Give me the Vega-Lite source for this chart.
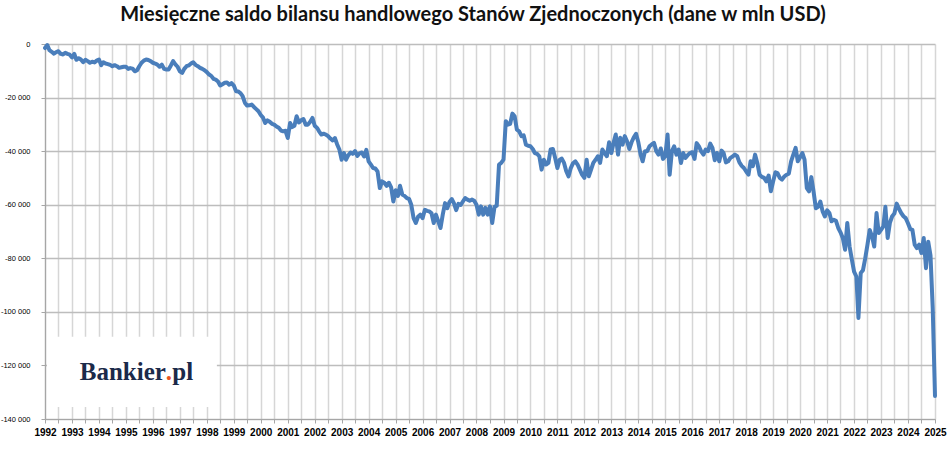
{
  "$schema": "https://vega.github.io/schema/vega-lite/v6.json",
  "width": 890,
  "height": 375,
  "autosize": {"type": "none"},
  "padding": {"left": 45, "top": 44, "right": 13, "bottom": 30},
  "background": "white",
  "title": {
    "text": "Miesięczne saldo bilansu handlowego Stanów Zjednoczonych (dane w mln USD)",
    "font": "Lato",
    "fontSize": 20,
    "fontWeight": "bold",
    "color": "#111111",
    "anchor": "middle",
    "dx": -17,
    "offset": 15
  },
  "config": {"view": {"stroke": null}},
  "layer": [
    {
      "data": {
        "values": [
          {"d": "1992-01-01", "v": -1500}, {"d": "1992-02-01", "v": -400}, {"d": "1992-03-01", "v": -2300}, {"d": "1992-04-01", "v": -2900}, {"d": "1992-05-01", "v": -3600}, {"d": "1992-06-01", "v": -3000}, {"d": "1992-07-01", "v": -2700}, {"d": "1992-08-01", "v": -3700}, {"d": "1992-09-01", "v": -3900}, {"d": "1992-10-01", "v": -3300}, {"d": "1992-11-01", "v": -3700}, {"d": "1992-12-01", "v": -4000},
          {"d": "1993-01-01", "v": -5000}, {"d": "1993-02-01", "v": -3700}, {"d": "1993-03-01", "v": -5900}, {"d": "1993-04-01", "v": -5300}, {"d": "1993-05-01", "v": -5800}, {"d": "1993-06-01", "v": -6800}, {"d": "1993-07-01", "v": -5900}, {"d": "1993-08-01", "v": -6400}, {"d": "1993-09-01", "v": -7000}, {"d": "1993-10-01", "v": -6600}, {"d": "1993-11-01", "v": -6900}, {"d": "1993-12-01", "v": -6200},
          {"d": "1994-01-01", "v": -5800}, {"d": "1994-02-01", "v": -7900}, {"d": "1994-03-01", "v": -6800}, {"d": "1994-04-01", "v": -7300}, {"d": "1994-05-01", "v": -7500}, {"d": "1994-06-01", "v": -7800}, {"d": "1994-07-01", "v": -8300}, {"d": "1994-08-01", "v": -7900}, {"d": "1994-09-01", "v": -8300}, {"d": "1994-10-01", "v": -8900}, {"d": "1994-11-01", "v": -8700}, {"d": "1994-12-01", "v": -8500},
          {"d": "1995-01-01", "v": -8500}, {"d": "1995-02-01", "v": -9300}, {"d": "1995-03-01", "v": -9000}, {"d": "1995-04-01", "v": -9200}, {"d": "1995-05-01", "v": -10200}, {"d": "1995-06-01", "v": -9800}, {"d": "1995-07-01", "v": -8300}, {"d": "1995-08-01", "v": -7000}, {"d": "1995-09-01", "v": -6200}, {"d": "1995-10-01", "v": -5800}, {"d": "1995-11-01", "v": -6000}, {"d": "1995-12-01", "v": -6400},
          {"d": "1996-01-01", "v": -7000}, {"d": "1996-02-01", "v": -7300}, {"d": "1996-03-01", "v": -7700}, {"d": "1996-04-01", "v": -8500}, {"d": "1996-05-01", "v": -7700}, {"d": "1996-06-01", "v": -9300}, {"d": "1996-07-01", "v": -9500}, {"d": "1996-08-01", "v": -9500}, {"d": "1996-09-01", "v": -8000}, {"d": "1996-10-01", "v": -6400}, {"d": "1996-11-01", "v": -7600}, {"d": "1996-12-01", "v": -8500},
          {"d": "1997-01-01", "v": -10200}, {"d": "1997-02-01", "v": -10800}, {"d": "1997-03-01", "v": -9300}, {"d": "1997-04-01", "v": -8300}, {"d": "1997-05-01", "v": -8000}, {"d": "1997-06-01", "v": -7300}, {"d": "1997-07-01", "v": -6800}, {"d": "1997-08-01", "v": -7800}, {"d": "1997-09-01", "v": -8300}, {"d": "1997-10-01", "v": -8900}, {"d": "1997-11-01", "v": -9300}, {"d": "1997-12-01", "v": -9800},
          {"d": "1998-01-01", "v": -10500}, {"d": "1998-02-01", "v": -11400}, {"d": "1998-03-01", "v": -11900}, {"d": "1998-04-01", "v": -13000}, {"d": "1998-05-01", "v": -13300}, {"d": "1998-06-01", "v": -14000}, {"d": "1998-07-01", "v": -15500}, {"d": "1998-08-01", "v": -15000}, {"d": "1998-09-01", "v": -14500}, {"d": "1998-10-01", "v": -14400}, {"d": "1998-11-01", "v": -15200}, {"d": "1998-12-01", "v": -14600},
          {"d": "1999-01-01", "v": -15500}, {"d": "1999-02-01", "v": -17600}, {"d": "1999-03-01", "v": -17700}, {"d": "1999-04-01", "v": -18300}, {"d": "1999-05-01", "v": -19500}, {"d": "1999-06-01", "v": -22000}, {"d": "1999-07-01", "v": -23000}, {"d": "1999-08-01", "v": -22900}, {"d": "1999-09-01", "v": -22600}, {"d": "1999-10-01", "v": -23500}, {"d": "1999-11-01", "v": -24300}, {"d": "1999-12-01", "v": -25100},
          {"d": "2000-01-01", "v": -26500}, {"d": "2000-02-01", "v": -27500}, {"d": "2000-03-01", "v": -29500}, {"d": "2000-04-01", "v": -28500}, {"d": "2000-05-01", "v": -29000}, {"d": "2000-06-01", "v": -29800}, {"d": "2000-07-01", "v": -30100}, {"d": "2000-08-01", "v": -30800}, {"d": "2000-09-01", "v": -31300}, {"d": "2000-10-01", "v": -32300}, {"d": "2000-11-01", "v": -32600}, {"d": "2000-12-01", "v": -32400},
          {"d": "2001-01-01", "v": -35100}, {"d": "2001-02-01", "v": -29500}, {"d": "2001-03-01", "v": -31000}, {"d": "2001-04-01", "v": -30500}, {"d": "2001-05-01", "v": -27000}, {"d": "2001-06-01", "v": -29300}, {"d": "2001-07-01", "v": -28500}, {"d": "2001-08-01", "v": -28000}, {"d": "2001-09-01", "v": -30100}, {"d": "2001-10-01", "v": -30100}, {"d": "2001-11-01", "v": -29000}, {"d": "2001-12-01", "v": -27600},
          {"d": "2002-01-01", "v": -30500}, {"d": "2002-02-01", "v": -31300}, {"d": "2002-03-01", "v": -32600}, {"d": "2002-04-01", "v": -33800}, {"d": "2002-05-01", "v": -33500}, {"d": "2002-06-01", "v": -33800}, {"d": "2002-07-01", "v": -34400}, {"d": "2002-08-01", "v": -35300}, {"d": "2002-09-01", "v": -36000}, {"d": "2002-10-01", "v": -35100}, {"d": "2002-11-01", "v": -37500}, {"d": "2002-12-01", "v": -39400},
          {"d": "2003-01-01", "v": -43200}, {"d": "2003-02-01", "v": -40700}, {"d": "2003-03-01", "v": -43200}, {"d": "2003-04-01", "v": -41500}, {"d": "2003-05-01", "v": -40500}, {"d": "2003-06-01", "v": -41000}, {"d": "2003-07-01", "v": -40000}, {"d": "2003-08-01", "v": -41800}, {"d": "2003-09-01", "v": -40800}, {"d": "2003-10-01", "v": -40500}, {"d": "2003-11-01", "v": -42000}, {"d": "2003-12-01", "v": -39500},
          {"d": "2004-01-01", "v": -43800}, {"d": "2004-02-01", "v": -45000}, {"d": "2004-03-01", "v": -46300}, {"d": "2004-04-01", "v": -46500}, {"d": "2004-05-01", "v": -47600}, {"d": "2004-06-01", "v": -53800}, {"d": "2004-07-01", "v": -51300}, {"d": "2004-08-01", "v": -51800}, {"d": "2004-09-01", "v": -53000}, {"d": "2004-10-01", "v": -51800}, {"d": "2004-11-01", "v": -53500}, {"d": "2004-12-01", "v": -58800},
          {"d": "2005-01-01", "v": -54600}, {"d": "2005-02-01", "v": -56700}, {"d": "2005-03-01", "v": -52900}, {"d": "2005-04-01", "v": -56200}, {"d": "2005-05-01", "v": -56700}, {"d": "2005-06-01", "v": -57500}, {"d": "2005-07-01", "v": -57800}, {"d": "2005-08-01", "v": -60000}, {"d": "2005-09-01", "v": -65000}, {"d": "2005-10-01", "v": -66800}, {"d": "2005-11-01", "v": -64500}, {"d": "2005-12-01", "v": -63700},
          {"d": "2006-01-01", "v": -65000}, {"d": "2006-02-01", "v": -61900}, {"d": "2006-03-01", "v": -62300}, {"d": "2006-04-01", "v": -62500}, {"d": "2006-05-01", "v": -63100}, {"d": "2006-06-01", "v": -66800}, {"d": "2006-07-01", "v": -63700}, {"d": "2006-08-01", "v": -66200}, {"d": "2006-09-01", "v": -68700}, {"d": "2006-10-01", "v": -63700}, {"d": "2006-11-01", "v": -59400}, {"d": "2006-12-01", "v": -61300},
          {"d": "2007-01-01", "v": -59000}, {"d": "2007-02-01", "v": -57900}, {"d": "2007-03-01", "v": -59400}, {"d": "2007-04-01", "v": -62000}, {"d": "2007-05-01", "v": -59700}, {"d": "2007-06-01", "v": -60100}, {"d": "2007-07-01", "v": -58800}, {"d": "2007-08-01", "v": -57500}, {"d": "2007-09-01", "v": -58100}, {"d": "2007-10-01", "v": -58500}, {"d": "2007-11-01", "v": -58100}, {"d": "2007-12-01", "v": -58500},
          {"d": "2008-01-01", "v": -60000}, {"d": "2008-02-01", "v": -63700}, {"d": "2008-03-01", "v": -60600}, {"d": "2008-04-01", "v": -63700}, {"d": "2008-05-01", "v": -61200}, {"d": "2008-06-01", "v": -63700}, {"d": "2008-07-01", "v": -60600}, {"d": "2008-08-01", "v": -66800}, {"d": "2008-09-01", "v": -60800}, {"d": "2008-10-01", "v": -60400}, {"d": "2008-11-01", "v": -45000}, {"d": "2008-12-01", "v": -44400},
          {"d": "2009-01-01", "v": -43200}, {"d": "2009-02-01", "v": -28800}, {"d": "2009-03-01", "v": -30100}, {"d": "2009-04-01", "v": -29800}, {"d": "2009-05-01", "v": -26000}, {"d": "2009-06-01", "v": -27000}, {"d": "2009-07-01", "v": -32000}, {"d": "2009-08-01", "v": -32600}, {"d": "2009-09-01", "v": -34400}, {"d": "2009-10-01", "v": -34100}, {"d": "2009-11-01", "v": -37600}, {"d": "2009-12-01", "v": -38000},
          {"d": "2010-01-01", "v": -38200}, {"d": "2010-02-01", "v": -39200}, {"d": "2010-03-01", "v": -40700}, {"d": "2010-04-01", "v": -41000}, {"d": "2010-05-01", "v": -41900}, {"d": "2010-06-01", "v": -46900}, {"d": "2010-07-01", "v": -43200}, {"d": "2010-08-01", "v": -45000}, {"d": "2010-09-01", "v": -44400}, {"d": "2010-10-01", "v": -39400}, {"d": "2010-11-01", "v": -39200}, {"d": "2010-12-01", "v": -42500},
          {"d": "2011-01-01", "v": -46300}, {"d": "2011-02-01", "v": -43200}, {"d": "2011-03-01", "v": -42800}, {"d": "2011-04-01", "v": -44400}, {"d": "2011-05-01", "v": -47500}, {"d": "2011-06-01", "v": -49400}, {"d": "2011-07-01", "v": -46300}, {"d": "2011-08-01", "v": -44500}, {"d": "2011-09-01", "v": -43800}, {"d": "2011-10-01", "v": -45000}, {"d": "2011-11-01", "v": -46900}, {"d": "2011-12-01", "v": -48800},
          {"d": "2012-01-01", "v": -50000}, {"d": "2012-02-01", "v": -43200}, {"d": "2012-03-01", "v": -49400}, {"d": "2012-04-01", "v": -46900}, {"d": "2012-05-01", "v": -44400}, {"d": "2012-06-01", "v": -43200}, {"d": "2012-07-01", "v": -41900}, {"d": "2012-08-01", "v": -44400}, {"d": "2012-09-01", "v": -39400}, {"d": "2012-10-01", "v": -40700}, {"d": "2012-11-01", "v": -41900}, {"d": "2012-12-01", "v": -36700},
          {"d": "2013-01-01", "v": -40700}, {"d": "2013-02-01", "v": -36700}, {"d": "2013-03-01", "v": -33800}, {"d": "2013-04-01", "v": -41300}, {"d": "2013-05-01", "v": -35000}, {"d": "2013-06-01", "v": -37600}, {"d": "2013-07-01", "v": -34400}, {"d": "2013-08-01", "v": -36300}, {"d": "2013-09-01", "v": -39200}, {"d": "2013-10-01", "v": -36700}, {"d": "2013-11-01", "v": -34800}, {"d": "2013-12-01", "v": -33500},
          {"d": "2014-01-01", "v": -36700}, {"d": "2014-02-01", "v": -41300}, {"d": "2014-03-01", "v": -43800}, {"d": "2014-04-01", "v": -40000}, {"d": "2014-05-01", "v": -40000}, {"d": "2014-06-01", "v": -38200}, {"d": "2014-07-01", "v": -37500}, {"d": "2014-08-01", "v": -36900}, {"d": "2014-09-01", "v": -40000}, {"d": "2014-10-01", "v": -41300}, {"d": "2014-11-01", "v": -39000}, {"d": "2014-12-01", "v": -42900},
          {"d": "2015-01-01", "v": -41900}, {"d": "2015-02-01", "v": -33800}, {"d": "2015-03-01", "v": -48800}, {"d": "2015-04-01", "v": -40000}, {"d": "2015-05-01", "v": -38200}, {"d": "2015-06-01", "v": -41300}, {"d": "2015-07-01", "v": -39400}, {"d": "2015-08-01", "v": -44400}, {"d": "2015-09-01", "v": -40700}, {"d": "2015-10-01", "v": -42500}, {"d": "2015-11-01", "v": -41500}, {"d": "2015-12-01", "v": -40700},
          {"d": "2016-01-01", "v": -40400}, {"d": "2016-02-01", "v": -42900}, {"d": "2016-03-01", "v": -37000}, {"d": "2016-04-01", "v": -38200}, {"d": "2016-05-01", "v": -40100}, {"d": "2016-06-01", "v": -41300}, {"d": "2016-07-01", "v": -39400}, {"d": "2016-08-01", "v": -40000}, {"d": "2016-09-01", "v": -37200}, {"d": "2016-10-01", "v": -38800}, {"d": "2016-11-01", "v": -43400}, {"d": "2016-12-01", "v": -40700},
          {"d": "2017-01-01", "v": -43800}, {"d": "2017-02-01", "v": -39800}, {"d": "2017-03-01", "v": -40700}, {"d": "2017-04-01", "v": -44200}, {"d": "2017-05-01", "v": -43800}, {"d": "2017-06-01", "v": -42500}, {"d": "2017-07-01", "v": -42000}, {"d": "2017-08-01", "v": -41300}, {"d": "2017-09-01", "v": -41900}, {"d": "2017-10-01", "v": -44200}, {"d": "2017-11-01", "v": -45500}, {"d": "2017-12-01", "v": -46300},
          {"d": "2018-01-01", "v": -47600}, {"d": "2018-02-01", "v": -48800}, {"d": "2018-03-01", "v": -43800}, {"d": "2018-04-01", "v": -45600}, {"d": "2018-05-01", "v": -41300}, {"d": "2018-06-01", "v": -44500}, {"d": "2018-07-01", "v": -48800}, {"d": "2018-08-01", "v": -49600}, {"d": "2018-09-01", "v": -50000}, {"d": "2018-10-01", "v": -51300}, {"d": "2018-11-01", "v": -49100}, {"d": "2018-12-01", "v": -55000},
          {"d": "2019-01-01", "v": -51300}, {"d": "2019-02-01", "v": -47900}, {"d": "2019-03-01", "v": -48200}, {"d": "2019-04-01", "v": -50000}, {"d": "2019-05-01", "v": -50600}, {"d": "2019-06-01", "v": -49500}, {"d": "2019-07-01", "v": -48800}, {"d": "2019-08-01", "v": -48400}, {"d": "2019-09-01", "v": -43800}, {"d": "2019-10-01", "v": -41300}, {"d": "2019-11-01", "v": -38800}, {"d": "2019-12-01", "v": -43800},
          {"d": "2020-01-01", "v": -42300}, {"d": "2020-02-01", "v": -40700}, {"d": "2020-03-01", "v": -43200}, {"d": "2020-04-01", "v": -53800}, {"d": "2020-05-01", "v": -55000}, {"d": "2020-06-01", "v": -49700}, {"d": "2020-07-01", "v": -55000}, {"d": "2020-08-01", "v": -61300}, {"d": "2020-09-01", "v": -60800}, {"d": "2020-10-01", "v": -58800}, {"d": "2020-11-01", "v": -62500}, {"d": "2020-12-01", "v": -64400},
          {"d": "2021-01-01", "v": -62100}, {"d": "2021-02-01", "v": -63100}, {"d": "2021-03-01", "v": -66200}, {"d": "2021-04-01", "v": -65600}, {"d": "2021-05-01", "v": -66000}, {"d": "2021-06-01", "v": -68700}, {"d": "2021-07-01", "v": -70300}, {"d": "2021-08-01", "v": -72400}, {"d": "2021-09-01", "v": -76800}, {"d": "2021-10-01", "v": -66800}, {"d": "2021-11-01", "v": -75600}, {"d": "2021-12-01", "v": -80300},
          {"d": "2022-01-01", "v": -85000}, {"d": "2022-02-01", "v": -86800}, {"d": "2022-03-01", "v": -102300}, {"d": "2022-04-01", "v": -85500}, {"d": "2022-05-01", "v": -84500}, {"d": "2022-06-01", "v": -80000}, {"d": "2022-07-01", "v": -75000}, {"d": "2022-08-01", "v": -69400}, {"d": "2022-09-01", "v": -71800}, {"d": "2022-10-01", "v": -75600}, {"d": "2022-11-01", "v": -63100}, {"d": "2022-12-01", "v": -70600},
          {"d": "2023-01-01", "v": -69400}, {"d": "2023-02-01", "v": -68100}, {"d": "2023-03-01", "v": -60800}, {"d": "2023-04-01", "v": -72400}, {"d": "2023-05-01", "v": -66800}, {"d": "2023-06-01", "v": -64300}, {"d": "2023-07-01", "v": -63300}, {"d": "2023-08-01", "v": -59600}, {"d": "2023-09-01", "v": -61500}, {"d": "2023-10-01", "v": -63100}, {"d": "2023-11-01", "v": -64300}, {"d": "2023-12-01", "v": -65000},
          {"d": "2024-01-01", "v": -66900}, {"d": "2024-02-01", "v": -69100}, {"d": "2024-03-01", "v": -69400}, {"d": "2024-04-01", "v": -74900}, {"d": "2024-05-01", "v": -76200}, {"d": "2024-06-01", "v": -74900}, {"d": "2024-07-01", "v": -78000}, {"d": "2024-08-01", "v": -72400}, {"d": "2024-09-01", "v": -83700}, {"d": "2024-10-01", "v": -73800}, {"d": "2024-11-01", "v": -78900}, {"d": "2024-12-01", "v": -98400},
          {"d": "2025-01-01", "v": -131400}
        ]
      },
      "mark": {"type": "line", "color": "#4a7ebb", "strokeWidth": 4, "strokeJoin": "round", "strokeCap": "round"},
      "encoding": {
        "x": {
          "field": "d",
          "type": "temporal",
          "scale": {
            "type": "utc",
            "domain": [
              {"year": 1992, "month": 1, "date": 1, "utc": true},
              {"year": 2025, "month": 1, "date": 1, "utc": true}
            ]
          },
          "axis": {
            "title": null,
            "tickCount": {"interval": "month", "step": 6},
            "labelExpr": "utcFormat(datum.value, '%m') == '01' ? utcFormat(datum.value, '%Y') : ''",
            "labelOverlap": false,
            "labelFlush": false,
            "labelFont": "Liberation Sans",
            "labelFontWeight": "bold",
            "labelFontSize": 10,
            "labelColor": "#000000",
            "labelPadding": 4,
            "grid": true,
            "gridColor": "#d6d6d6",
            "gridWidth": 1.5,
            "domainColor": "#a6a6a6",
            "domainWidth": 1.2,
            "tickColor": "#a6a6a6",
            "tickSize": 4
          }
        },
        "y": {
          "field": "v",
          "type": "quantitative",
          "scale": {"domain": [-140000, 0], "nice": false, "zero": false},
          "axis": {
            "title": null,
            "values": [0, -20000, -40000, -60000, -80000, -100000, -120000, -140000],
            "labelExpr": "datum.value == 0 ? '0' : '-' + replace(format(-datum.value, ','), ',', ' ')",
            "labelFont": "Liberation Sans",
            "labelFontSize": 7.5,
            "labelColor": "#000000",
            "labelPadding": 11,
            "grid": true,
            "gridColor": "#bdbdbd",
            "gridWidth": 1.3,
            "domainColor": "#a6a6a6",
            "domainWidth": 1.2,
            "tickColor": "#a6a6a6",
            "tickSize": 4
          }
        }
      }
    },
    {
      "data": {"values": [{}]},
      "mark": {"type": "rect", "color": "white"},
      "encoding": {
        "x": {"datum": {"year": 1992, "month": 1, "date": 28, "utc": true}, "type": "temporal"},
        "x2": {"datum": {"year": 1998, "month": 5, "date": 17, "utc": true}},
        "y": {"datum": -109300, "type": "quantitative"},
        "y2": {"datum": -135500}
      }
    },
    {
      "data": {"values": [{}]},
      "mark": {"type": "text", "text": "Bankier", "font": "Liberation Serif", "fontWeight": "bold", "fontSize": 25, "color": "#1b2a4a", "align": "right", "baseline": "alphabetic"},
      "encoding": {
        "x": {"datum": {"year": 1996, "month": 6, "date": 25, "utc": true}, "type": "temporal"},
        "y": {"datum": -125400, "type": "quantitative"}
      }
    },
    {
      "data": {"values": [{}]},
      "mark": {"type": "text", "text": ".", "font": "Liberation Serif", "fontWeight": "bold", "fontSize": 25, "color": "#e8561f", "align": "left", "baseline": "alphabetic"},
      "encoding": {
        "x": {"datum": {"year": 1996, "month": 6, "date": 25, "utc": true}, "type": "temporal"},
        "y": {"datum": -125400, "type": "quantitative"}
      }
    },
    {
      "data": {"values": [{}]},
      "mark": {"type": "text", "text": "pl", "font": "Liberation Serif", "fontWeight": "bold", "fontSize": 25, "color": "#1b2a4a", "align": "left", "baseline": "alphabetic", "dx": 6.5},
      "encoding": {
        "x": {"datum": {"year": 1996, "month": 6, "date": 25, "utc": true}, "type": "temporal"},
        "y": {"datum": -125400, "type": "quantitative"}
      }
    }
  ]
}
